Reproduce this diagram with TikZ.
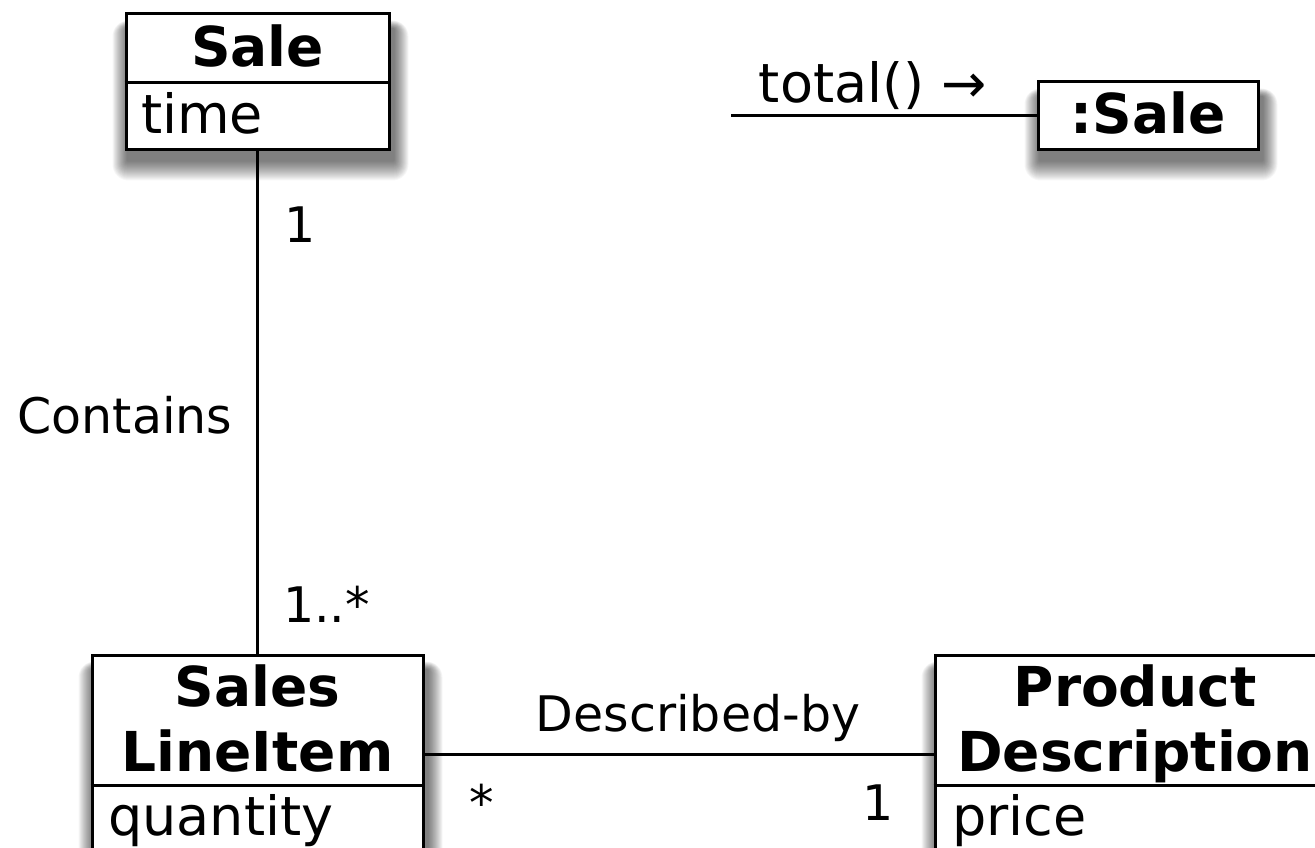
\documentclass[tikz,border=0pt]{standalone}
\usepackage{fontspec}
\setmainfont{DejaVu Sans}
\pgfdeclarelayer{paper}
\pgfdeclarelayer{shadowlayer}
\pgfsetlayers{paper,shadowlayer,main}
\newcommand\boxshadow[1]{%
  \begin{pgfonlayer}{shadowlayer}
  \foreach \i in {1,...,20}{%
    \fill[black, fill opacity=0.031, rounded corners=0.8*\i pt]
      ([shift={(3-0.75*\i,9+\i)}]#1.south west) rectangle ([shift={(3+0.75*\i,16-0.4*\i)}]#1.north east);}
  \end{pgfonlayer}}
\begin{document}
\begin{tikzpicture}[x=1pt,y=-1pt,
  cls/.style={draw=black, line width=3pt, fill=white, inner sep=0pt},
  divider/.style={line width=3pt},
  conn/.style={line width=3pt},
  ttl/.style={font=\fontsize{55}{65}\selectfont\bfseries, inner sep=0pt},
  attr/.style={font=\fontsize{54}{64}\selectfont, inner sep=0pt},
  lbl/.style={font=\fontsize{49}{58}\selectfont, inner sep=0pt},
  msglbl/.style={font=\fontsize{54}{64}\selectfont, inner sep=0pt}
]
\useasboundingbox (0,0) rectangle (1315,848);
\begin{pgfonlayer}{paper}
\fill[white] (0,0) rectangle (1315,848);
\end{pgfonlayer}

% Sale class
\node[cls, minimum width=263pt, minimum height=136pt] (sale) at (257.5,82) {};
\boxshadow{sale}
\draw[divider] (sale.west |- 0,83) -- (sale.east |- 0,83);
\node[ttl, anchor=base] (saleT) at (257.5,67) {Sale};
\node[attr, anchor=base west] (saleA) at (141,134) {time};

% :Sale object
\node[cls, minimum width=220pt, minimum height=68pt] (osale) at (1148,116) {};
\boxshadow{osale}
\node[ttl, anchor=base] (osaleT) at (1148,134) {:Sale};
\coordinate (msgstart) at (731,116);
\draw[conn] (msgstart) -- (osale.west);
\node[msglbl, anchor=base] (msg) at (873,103) {total() →};

% Sales LineItem
\node[cls, minimum width=331pt, minimum height=220pt] (sli) at (257.5,765) {};
\boxshadow{sli}
\draw[divider] (sli.west |- 0,785) -- (sli.east |- 0,785);
\node[ttl, anchor=base] (sliT1) at (257.5,706) {Sales};
\node[ttl, anchor=base] (sliT2) at (257.5,771) {LineItem};
\node[attr, anchor=base west] (sliA) at (108,835) {quantity};

% Product Description
\node[cls, minimum width=400pt, minimum height=220pt] (pd) at (1135,765) {};
\boxshadow{pd}
\draw[divider] (pd.west |- 0,785) -- (pd.east |- 0,785);
\node[ttl, anchor=base] (pdT1) at (1135,706) {Product};
\node[ttl, anchor=base] (pdT2) at (1135,771) {Description};
\node[attr, anchor=base west] (pdA) at (952,835) {price};

% Associations
\draw[conn] (sale.south) -- (sli.north);
\node[lbl, anchor=base west] (m1) at (284,242) {1};
\node[lbl, anchor=base] (contains) at (125,433) {Contains};
\node[lbl, anchor=base west] (m2) at (283,622) {1..*};

\draw[conn] ([yshift=11pt]sli.east) -- ([yshift=11pt]pd.west);
\node[lbl, anchor=base] (descr) at (698,731) {Described-by};
\node[lbl, anchor=base] (m3) at (482,820) {*};
\node[lbl, anchor=base] (m4) at (878,820) {1};
\end{tikzpicture}
\end{document}
